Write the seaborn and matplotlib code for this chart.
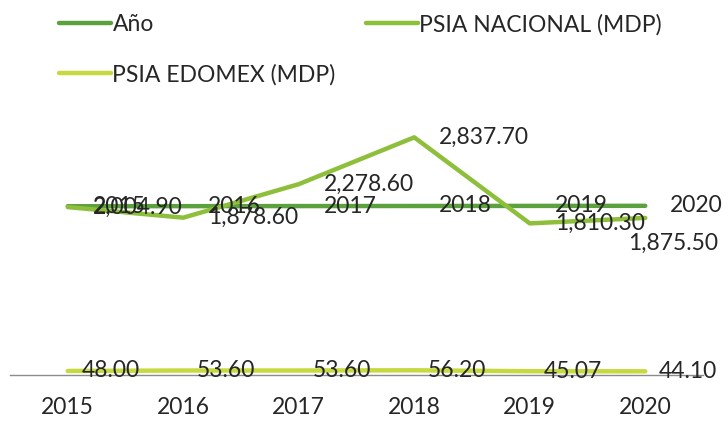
import pandas as pd
import numpy as np
import matplotlib.pyplot as plt
import seaborn as sns

# data
years = ['2015', '2016', '2017', '2018', '2019', '2020']
anio = [2015, 2016, 2017, 2018, 2019, 2020]
psia_nacional = [2004.90, 1878.60, 2278.60, 2837.70, 1810.30, 1875.50]
psia_edomex = [48.00, 53.60, 53.60, 56.20, 45.07, 44.10]

series_names = ['Año', 'PSIA NACIONAL (MDP)', 'PSIA EDOMEX (MDP)']
colors = ['#5ba23e', '#8dbf3b', '#c6d93f']

df = pd.DataFrame({
    'year': years * 3,
    'value': anio + psia_nacional + psia_edomex,
    'serie': np.repeat(series_names, len(years)),
})

sns.set_style('white')
plt.rcParams['font.family'] = ['Lato', 'DejaVu Sans']

fig = plt.figure(figsize=(7.28, 4.21), dpi=100)
ax = fig.add_axes([10 / 728, 1 - 375 / 421, 693 / 728, 335 / 421])

sns.lineplot(data=df, x='year', y='value', hue='serie', palette=colors,
             linewidth=3.2, ax=ax, sort=False)

ax.set_xlim(-0.5, 5.5)
ax.set_ylim(0, 4000)
ax.set_xlabel('')
ax.set_ylabel('')
ax.set_yticks([])
for s in ['left', 'right', 'top']:
    ax.spines[s].set_visible(False)
ax.spines['bottom'].set_color('#8c8c8c')
ax.spines['bottom'].set_linewidth(1)

fs = 16.5
ax.tick_params(axis='x', length=0, pad=16, labelsize=fs)

# data labels
for i, v in enumerate(anio):
    ax.annotate(f'{v}', (i, v), xytext=(18, 0), textcoords='offset points',
                ha='left', va='center', fontsize=fs)
for i, v in enumerate(psia_nacional):
    off = (18, 0) if i < len(psia_nacional) - 1 else (-12, -18)
    ax.annotate(f'{v:,.2f}', (i, v), xytext=off, textcoords='offset points',
                ha='left', va='center', fontsize=fs)
for i, v in enumerate(psia_edomex):
    ax.annotate(f'{v:,.2f}', (i, v), xytext=(10, 0), textcoords='offset points',
                ha='left', va='center', fontsize=fs)

handles, labels = ax.get_legend_handles_labels()
ax.get_legend().remove()
# row-wise order: Año, NACIONAL on the first row, EDOMEX on the second
order = [0, 2, 1]
fig.legend([handles[k] for k in order], [labels[k] for k in order],
           ncol=2, loc='upper left',
           bbox_to_anchor=(38 / 728, 1 + 7 / 421), frameon=False,
           fontsize=fs, handlelength=2.3, handletextpad=0.05,
           columnspacing=1.3, labelspacing=1.25)

fig.savefig('out.png', dpi=100)
